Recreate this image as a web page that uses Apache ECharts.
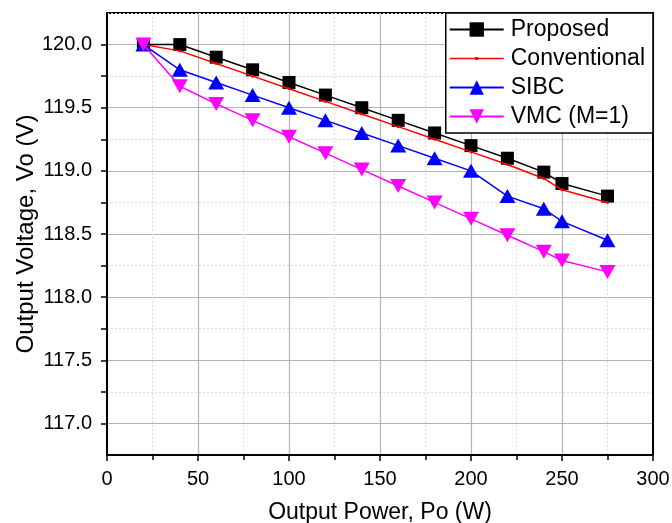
<!DOCTYPE html>
<html>
<head>
<meta charset="utf-8">
<script src="https://cdn.jsdelivr.net/npm/echarts@6/dist/echarts.min.js"></script>
<style>html,body{margin:0;padding:0;background:#fff;}#c{width:672px;height:523px;}</style>
</head>
<body>
<div id="c"></div>
<script>
const power = [20, 40, 60, 80, 100, 120, 140, 160, 180, 200, 220, 240, 250, 275];
const proposed = [120.0, 120.0, 119.9, 119.8, 119.7, 119.6, 119.5, 119.4, 119.3, 119.2, 119.1, 118.99, 118.9, 118.8];
const conventional = [120.0, 119.95, 119.85, 119.75, 119.65, 119.55, 119.45, 119.35, 119.25, 119.15, 119.05, 118.94, 118.85, 118.75];
const sibc = [120.0, 119.8, 119.7, 119.6, 119.5, 119.4, 119.3, 119.2, 119.1, 119.0, 118.8, 118.7, 118.6, 118.45];
const vmc = [120.0, 119.67, 119.53, 119.4, 119.27, 119.14, 119.01, 118.88, 118.75, 118.62, 118.49, 118.36, 118.29, 118.2];
const seriesNames = ['Proposed', 'Conventional', 'SIBC', 'VMC (M=1)'];
const xTickLabels = ['0', '50', '100', '150', '200', '250', '300'];
const yTickLabels = ['117.0', '117.5', '118.0', '118.5', '119.0', '119.5', '120.0'];

const FONT = 'Liberation Sans, Arial, sans-serif';
const pair = arr => power.map((p, i) => [p, arr[i]]);
const chart = echarts.init(document.getElementById('c'));
chart.setOption({
  animation: false,
  backgroundColor: '#fff',
  textStyle: { fontFamily: FONT, color: '#000' },
  grid: { left: 107, right: 19, top: 13, bottom: 68, containLabel: false, outerBoundsMode: 'none',
    show: true, borderColor: '#000', borderWidth: 2, backgroundColor: 'transparent' },
  legend: {
    orient: 'vertical', right: 19, top: 13,
    backgroundColor: '#fff', borderColor: '#000', borderWidth: 1.5, borderRadius: 0,
    padding: [5, 8, 5, 3],
    itemWidth: 54, itemHeight: 18, itemGap: 6,
    textStyle: { fontFamily: FONT, fontSize: 23, color: '#000', padding: [0, 0, 0, 2] },
    data: [
      { name: seriesNames[0] },
      { name: seriesNames[1], icon: 'path://M0,8 L54,8 L54,9.6 L0,9.6 Z M25.5,7.2 L28.5,7.2 L28.5,10.4 L25.5,10.4 Z' },
      { name: seriesNames[2] },
      { name: seriesNames[3] }
    ]
  },
  xAxis: {
    type: 'value', min: 0, max: 300, interval: 50,
    name: 'Output Power, Po (W)', nameLocation: 'middle', nameGap: 46, nameMoveOverlap: false,
    nameTextStyle: { fontFamily: FONT, fontSize: 23, color: '#000' },
    axisLine: { show: true, onZero: false, lineStyle: { color: '#000', width: 2 } },
    axisTick: { show: true, inside: false, length: 6, lineStyle: { color: '#000', width: 1.5 } },
    minorTick: { show: true, splitNumber: 2, length: 5, lineStyle: { color: '#000', width: 1.5 } },
    axisLabel: { fontFamily: FONT, fontSize: 20, color: '#000', margin: 14,
      formatter: v => xTickLabels.includes(String(v)) ? String(v) : '' },
    splitLine: { show: true, lineStyle: { color: '#b4b4b4', width: 1.2 } },
    minorSplitLine: { show: true, lineStyle: { color: '#dcdcdc', width: 1, type: [2, 2] } }
  },
  yAxis: [{
    type: 'value', min: 116.75, max: 120.25, interval: 0.25,
    name: 'Output Voltage, Vo (V)', nameLocation: 'middle', nameGap: 69, nameRotate: 90, nameMoveOverlap: false,
    nameTextStyle: { fontFamily: FONT, fontSize: 24, color: '#000' },
    axisLine: { show: true, onZero: false, lineStyle: { color: '#000', width: 2 } },
    axisTick: { show: true, inside: false, length: 6, lineStyle: { color: '#000', width: 1.5 } },
    axisLabel: { fontFamily: FONT, fontSize: 20, color: '#000', margin: 15, showMinLabel: false, showMaxLabel: false,
      formatter: v => { const s = v.toFixed(1); return (Math.abs(v * 2 - Math.round(v * 2)) < 1e-6 && yTickLabels.includes(s)) ? s : ''; } },
    splitLine: { show: true, lineStyle: { color: '#dcdcdc', width: 1, type: [2, 2] } }
  }, {
    type: 'value', min: 116.75, max: 120.25, interval: 0.25, position: 'right',
    axisLine: { show: true, onZero: false, lineStyle: { color: '#000', width: 2 } },
    axisTick: { show: false }, axisLabel: { show: false },
    splitLine: { show: true, lineStyle: { color: ['rgba(0,0,0,0)', '#b4b4b4'], width: 1.2 } }
  }],
  series: [
    { name: seriesNames[0], type: 'line', data: pair(proposed), symbol: 'rect', symbolSize: 13,
      itemStyle: { color: '#000' }, lineStyle: { color: '#000', width: 1.5 }, z: 3 },
    { name: seriesNames[1], type: 'line', data: pair(conventional), symbol: 'circle', symbolSize: 3,
      itemStyle: { color: '#ff0000' }, lineStyle: { color: '#ff0000', width: 1.5 }, z: 4 },
    { name: seriesNames[2], type: 'line', data: pair(sibc), symbol: 'triangle', symbolSize: [16, 14],
      itemStyle: { color: '#0000ff' }, lineStyle: { color: '#0000ff', width: 1.5 }, z: 5 },
    { name: seriesNames[3], type: 'line', data: pair(vmc), symbol: 'triangle', symbolRotate: 180, symbolSize: [16, 14],
      itemStyle: { color: '#ff00ff' }, lineStyle: { color: '#ff00ff', width: 1.5 }, z: 6 }
  ]
});
</script>
</body>
</html>
